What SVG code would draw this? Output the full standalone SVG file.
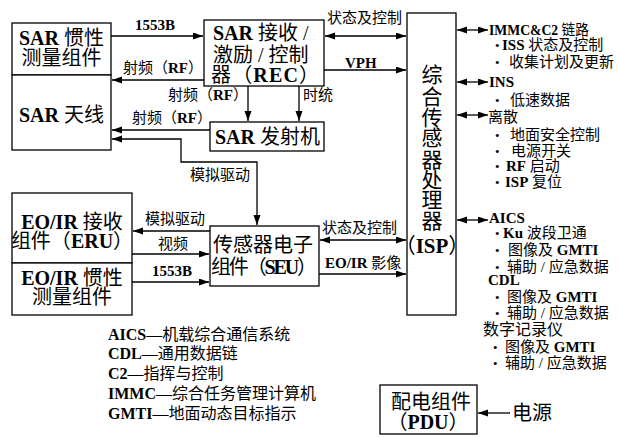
<svg xmlns="http://www.w3.org/2000/svg" width="619" height="437" viewBox="0 0 619 437">
<style>
text{font-family:"Liberation Serif","Noto Sans CJK SC",serif;fill:#000}
.box{fill:#fff;stroke:#000;stroke-width:1.3}
.ln{fill:none;stroke:#000;stroke-width:1.3}
.t20{font-size:20px}
.t21{font-size:21px}
.t15{font-size:15px}
.t16{font-size:16px}
.bul{font-size:13px}
.b{font-weight:bold}
.m{text-anchor:middle}
</style>
<defs>
<marker id="ah" markerUnits="userSpaceOnUse" markerWidth="11" markerHeight="8" refX="10" refY="3.5" orient="auto-start-reverse">
<path d="M0,0 L10,3.5 L0,7 z" fill="#000"/>
</marker>
</defs>

<g id="connectors">
<path class="ln" d="M111,36 H203" marker-end="url(#ah)"/>
<path class="ln" d="M204,80 H112" marker-end="url(#ah)"/>
<path class="ln" d="M248,86 V121" marker-end="url(#ah)"/>
<path class="ln" d="M299,86 V121" marker-end="url(#ah)"/>
<path class="ln" d="M210,130 H112" marker-end="url(#ah)"/>
<path class="ln" d="M257,225 V162 H181 V139 H112" marker-start="url(#ah)" marker-end="url(#ah)"/>
<path class="ln" d="M325,36 H406" marker-start="url(#ah)" marker-end="url(#ah)"/>
<path class="ln" d="M324,70 H406" marker-end="url(#ah)"/>
<path class="ln" d="M210,231 H133" marker-end="url(#ah)"/>
<path class="ln" d="M132,254 H209" marker-end="url(#ah)"/>
<path class="ln" d="M132,282 H209" marker-end="url(#ah)"/>
<path class="ln" d="M320,240 H406" marker-start="url(#ah)" marker-end="url(#ah)"/>
<path class="ln" d="M319,274 H406" marker-end="url(#ah)"/>
<path class="ln" d="M457,30 H488" marker-start="url(#ah)" marker-end="url(#ah)"/>
<path class="ln" d="M457,82 H488" marker-start="url(#ah)" marker-end="url(#ah)"/>
<path class="ln" d="M457,115 H488" marker-start="url(#ah)" marker-end="url(#ah)"/>
<path class="ln" d="M457,220 H488" marker-start="url(#ah)" marker-end="url(#ah)"/>
<path class="ln" d="M510,413 H478" marker-end="url(#ah)"/>
<text class="t15 b" x="135" y="30">1553B</text>
<text class="t15" x="123" y="73">射频（<tspan class="b">RF</tspan>）</text>
<text class="t15" x="168" y="100">射频（<tspan class="b">RF</tspan>）</text>
<text class="t15" x="303" y="100">时统</text>
<text class="t15" x="132" y="123">射频（<tspan class="b">RF</tspan>）</text>
<text class="t15" x="190" y="180">模拟驱动</text>
<text class="t15" x="327" y="23">状态及控制</text>
<text class="t15 b" x="345" y="68">VPH</text>
<text class="t15" x="145" y="224">模拟驱动</text>
<text class="t15" x="158" y="249">视频</text>
<text class="t15 b" x="152" y="276">1553B</text>
<text class="t15" x="322" y="233">状态及控制</text>
<text class="t15" x="325" y="268"><tspan class="b">EO/IR</tspan> 影像</text>
</g>

<g id="sar_imu">
<rect class="box" x="12" y="23" width="99" height="52"/>
<text class="t20 m" x="61.5" y="45"><tspan class="b">SAR</tspan> 惯性</text>
<text class="t20 m" x="61.5" y="65">测量组件</text>
</g>
<g id="sar_antenna">
<rect class="box" x="12" y="75" width="99" height="75"/>
<text class="t20 m" x="61.5" y="122"><tspan class="b">SAR</tspan> 天线</text>
</g>
<g id="rec">
<rect class="box" x="204" y="20" width="120" height="66"/>
<text class="t20" x="213" y="40"><tspan class="b">SAR</tspan> 接收 /</text>
<text class="t20" x="213" y="62">激励 / 控制</text>
<text class="t20" x="211" y="82" textLength="108">器（<tspan class="b">REC</tspan>）</text>
</g>
<g id="sar_tx">
<rect class="box" x="210" y="122" width="114" height="29"/>
<text class="t20" x="215" y="144"><tspan class="b">SAR</tspan> 发射机</text>
</g>
<g id="isp">
<rect class="box" x="407" y="13" width="49" height="302"/>
<text class="t21 m" x="432" y="81.5">综</text>
<text class="t21 m" x="432" y="103.5">合</text>
<text class="t21 m" x="432" y="124.5">传</text>
<text class="t21 m" x="432" y="144.5">感</text>
<text class="t21 m" x="432" y="166.5">器</text>
<text class="t21 m" x="432" y="186.5">处</text>
<text class="t21 m" x="432" y="206.5">理</text>
<text class="t21 m" x="432" y="227.5">器</text>
<text class="t21 m" x="432" y="252.5">（<tspan class="b">ISP</tspan>）</text>
</g>
<g id="eru">
<rect class="box" x="12" y="193" width="120" height="70"/>
<text class="t20 m" x="72" y="229"><tspan class="b">EO/IR</tspan> 接收</text>
<text class="t20 m" x="72" y="248">组件（<tspan class="b">ERU</tspan>）</text>
</g>
<g id="eo_imu">
<rect class="box" x="12" y="263" width="120" height="52"/>
<text class="t20 m" x="72" y="285"><tspan class="b">EO/IR</tspan> 惯性</text>
<text class="t20 m" x="72" y="304">测量组件</text>
</g>
<g id="seu">
<rect class="box" x="210" y="226" width="109" height="60"/>
<text class="t20" x="213" y="252">传感器电子</text>
<text class="t20" x="211" y="274" textLength="106">组件（<tspan class="b">SEU</tspan>）</text>
</g>
<g id="pdu">
<rect class="box" x="380" y="385" width="97" height="49"/>
<text class="t20 m" x="431" y="409">配电组件</text>
<text class="t20 m" x="428" y="429">（<tspan class="b">PDU</tspan>）</text>
</g>
<g id="power">
<text class="t20" x="512" y="420">电源</text>
</g>

<g id="interfaces">
<text class="t15" x="489" y="35" textLength="100" lengthAdjust="spacingAndGlyphs"><tspan class="b">IMMC&amp;C2</tspan> 链路</text>
<text class="bul" x="495" y="50">•</text>
<text class="t15" x="502" y="50"><tspan class="b">ISS</tspan> 状态及控制</text>
<text class="bul" x="495" y="67">•</text>
<text class="t15" x="509" y="67">收集计划及更新</text>
<text class="t15 b" x="489" y="87">INS</text>
<text class="bul" x="495" y="105">•</text>
<text class="t15" x="510" y="105">低速数据</text>
<text class="t15" x="488" y="122">离散</text>
<text class="bul" x="495" y="140">•</text>
<text class="t15" x="510" y="140">地面安全控制</text>
<text class="bul" x="495" y="156">•</text>
<text class="t15" x="511" y="156">电源开关</text>
<text class="bul" x="495" y="171">•</text>
<text class="t15" x="506" y="171"><tspan class="b">RF</tspan> 启动</text>
<text class="bul" x="495" y="187">•</text>
<text class="t15" x="505" y="187"><tspan class="b">ISP</tspan> 复位</text>
<text class="t15 b" x="489" y="223">AICS</text>
<text class="bul" x="495" y="238">•</text>
<text class="t15" x="503" y="238"><tspan class="b">Ku</tspan> 波段卫通</text>
<text class="bul" x="495" y="255">•</text>
<text class="t15" x="508" y="255">图像及 <tspan class="b">GMTI</tspan></text>
<text class="bul" x="495" y="272">•</text>
<text class="t15" x="507" y="272">辅助 / 应急数据</text>
<text class="t15 b" x="488" y="285">CDL</text>
<text class="bul" x="495" y="302">•</text>
<text class="t15" x="507" y="302">图像及 <tspan class="b">GMTI</tspan></text>
<text class="bul" x="495" y="318">•</text>
<text class="t15" x="507" y="318">辅助 / 应急数据</text>
<text class="t16" x="483" y="335">数字记录仪</text>
<text class="bul" x="493" y="352">•</text>
<text class="t15" x="505" y="352">图像及 <tspan class="b">GMTI</tspan></text>
<text class="bul" x="493" y="368">•</text>
<text class="t15" x="505" y="368">辅助 / 应急数据</text>
</g>

<g id="legend">
<text class="t16" x="108" y="340"><tspan class="b">AICS</tspan>—机载综合通信系统</text>
<text class="t16" x="108" y="359"><tspan class="b">CDL</tspan>—通用数据链</text>
<text class="t16" x="108" y="379"><tspan class="b">C2</tspan>—指挥与控制</text>
<text class="t16" x="108" y="399"><tspan class="b">IMMC</tspan>—综合任务管理计算机</text>
<text class="t16" x="108" y="419"><tspan class="b">GMTI</tspan>—地面动态目标指示</text>
</g>
</svg>
